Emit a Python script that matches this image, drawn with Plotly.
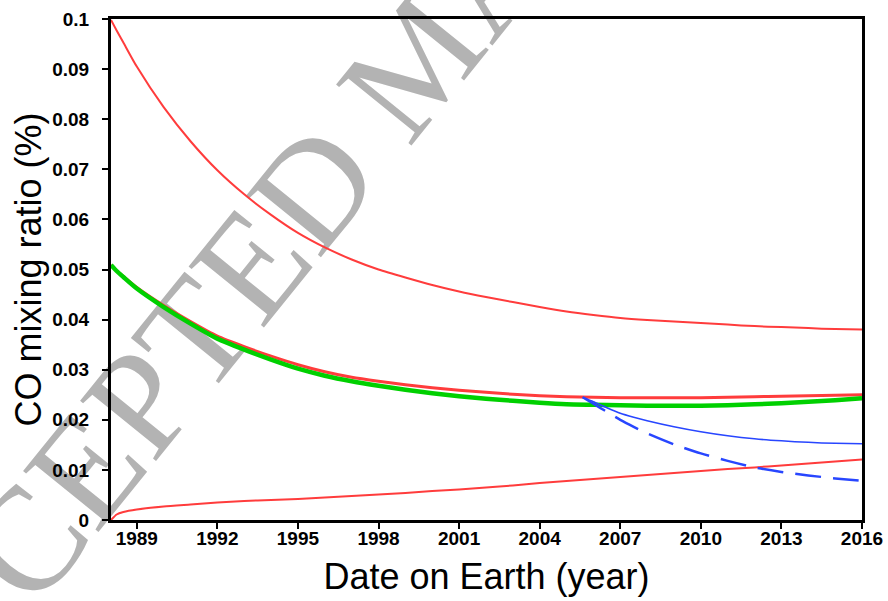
import plotly.graph_objects as go

# ---- data ----
years = [1988.04, 1988.25, 1988.5, 1989, 1990, 1991, 1992, 1993, 1994, 1995,
         1996, 1997, 1998, 1999, 2000, 2001, 2002, 2003, 2004, 2005,
         2006, 2007, 2008, 2009, 2010, 2011, 2012, 2013, 2014, 2015, 2016]

red_upper = [0.0998, 0.0977, 0.0953, 0.0905, 0.0824, 0.0756, 0.0698, 0.0650, 0.0609, 0.0573,
             0.0544, 0.0520, 0.0500, 0.0484, 0.0469, 0.0456, 0.0445, 0.0435, 0.0425, 0.0416,
             0.0409, 0.0403, 0.0399, 0.0396, 0.0393, 0.0390, 0.0387, 0.0385, 0.0383, 0.0381, 0.0380]

red_middle = [0.0509, 0.0498, 0.0486, 0.0464, 0.0428, 0.0396, 0.0367, 0.0346, 0.0327, 0.0310,
              0.0296, 0.0285, 0.0277, 0.0270, 0.0264, 0.0259, 0.0255, 0.0251, 0.0248, 0.0246,
              0.0245, 0.0244, 0.0244, 0.0244, 0.0244, 0.0245, 0.0246, 0.0247, 0.0248, 0.0249, 0.0250]

green = [0.0509, 0.0497, 0.0485, 0.0462, 0.0425, 0.0392, 0.0362, 0.0340, 0.0320, 0.0302,
         0.0288, 0.0277, 0.0268, 0.0260, 0.0253, 0.0247, 0.0242, 0.0238, 0.0234, 0.0231,
         0.0230, 0.0229, 0.0228, 0.0228, 0.0228, 0.0229, 0.0231, 0.0233, 0.0236, 0.0239, 0.0243]

red_lower = [0.0000, 0.0011, 0.0016, 0.0021, 0.0027, 0.0031, 0.0035, 0.0038, 0.0040, 0.0042,
             0.0045, 0.0048, 0.0051, 0.0054, 0.0058, 0.0061, 0.0065, 0.0069, 0.0074, 0.0078,
             0.0082, 0.0086, 0.0090, 0.0094, 0.0098, 0.0102, 0.0105, 0.0109, 0.0113, 0.0117, 0.0121]

blue_years = [2005.6, 2006, 2006.5, 2007, 2007.5, 2008, 2009, 2010, 2011, 2012, 2013, 2014, 2015, 2016]
blue_solid = [0.0245, 0.0236, 0.0224, 0.0213, 0.0205, 0.0198, 0.0186, 0.0176, 0.0168, 0.0162,
              0.0158, 0.0155, 0.0153, 0.0152]
blue_dashed = [0.0245, 0.0232, 0.0216, 0.0200, 0.0186, 0.0173, 0.0151, 0.0133, 0.0118, 0.0105,
               0.0096, 0.0089, 0.0083, 0.0078]

x_ticks = [1989, 1992, 1995, 1998, 2001, 2004, 2007, 2010, 2013, 2016]
y_ticks = [0, 0.01, 0.02, 0.03, 0.04, 0.05, 0.06, 0.07, 0.08, 0.09, 0.1]

RED = "#ff3c3c"
GREEN = "#00d000"
BLUE = "#2846ff"

fig = go.Figure()
fig.add_trace(go.Scatter(x=years, y=red_upper, mode="lines", line=dict(color=RED, width=2, shape="spline", smoothing=0.6)))
fig.add_trace(go.Scatter(x=years, y=red_lower, mode="lines", line=dict(color=RED, width=2, shape="spline", smoothing=0.6)))
fig.add_trace(go.Scatter(x=years, y=red_middle, mode="lines", line=dict(color=RED, width=3, shape="spline", smoothing=0.6)))
fig.add_trace(go.Scatter(x=years, y=green, mode="lines", line=dict(color=GREEN, width=4.5, shape="spline", smoothing=0.6)))
fig.add_trace(go.Scatter(x=blue_years, y=blue_solid, mode="lines", line=dict(color=BLUE, width=1.5, shape="spline", smoothing=0.6)))
fig.add_trace(go.Scatter(x=blue_years, y=blue_dashed, mode="lines", line=dict(color=BLUE, width=2.5, dash="26px,12px", shape="spline", smoothing=0.6)))

# watermark (below the data)
fig.add_shape(type="rect", xref="paper", yref="paper", x0=0.382, x1=0.402, y0=0.932, y1=0.952,
              line=dict(width=0, color="rgba(0,0,0,0)"), fillcolor="rgba(0,0,0,0)", layer="below",
              label=dict(text="ACCEPTED MANUSCRIPT", textangle=-51, textposition="middle center",
                         font=dict(family="Liberation Serif", size=148, color="#b3b3b3")))

tick_font = dict(family="Liberation Sans", size=19, color="black", weight="bold")
title_font = dict(family="Liberation Sans", size=36, color="black")

fig.update_layout(
    width=888, height=601,
    margin=dict(l=111, r=26, t=19, b=81, autoexpand=False),
    paper_bgcolor="white", plot_bgcolor="rgba(0,0,0,0)",
    showlegend=False,
    xaxis=dict(range=[1988.04, 2016], tickvals=x_ticks, ticktext=[str(v) for v in x_ticks],
               automargin=False,
               showgrid=False, zeroline=False, showline=True, linecolor="black", linewidth=3,
               mirror=True, ticks="outside", ticklen=6, tickwidth=2, tickcolor="black",
               tickfont=tick_font, ticklabelstandoff=-7,
               title=dict(text="Date on Earth (year)", font=title_font, standoff=17)),
    yaxis=dict(range=[0, 0.1], tickvals=y_ticks, ticktext=["0"] + [f"{v:g}" for v in y_ticks[1:]],
               automargin=False,
               showgrid=False, zeroline=False, showline=True, linecolor="black", linewidth=3,
               mirror=True, ticks="outside", ticklen=6, tickwidth=2, tickcolor="black",
               tickfont=tick_font, ticklabelstandoff=9,
               title=dict(text="CO mixing ratio (%)", font=title_font, standoff=0)),
)

fig.write_html("out.html", config={"displayModeBar": False},
               post_script="document.body.style.margin='0';")
